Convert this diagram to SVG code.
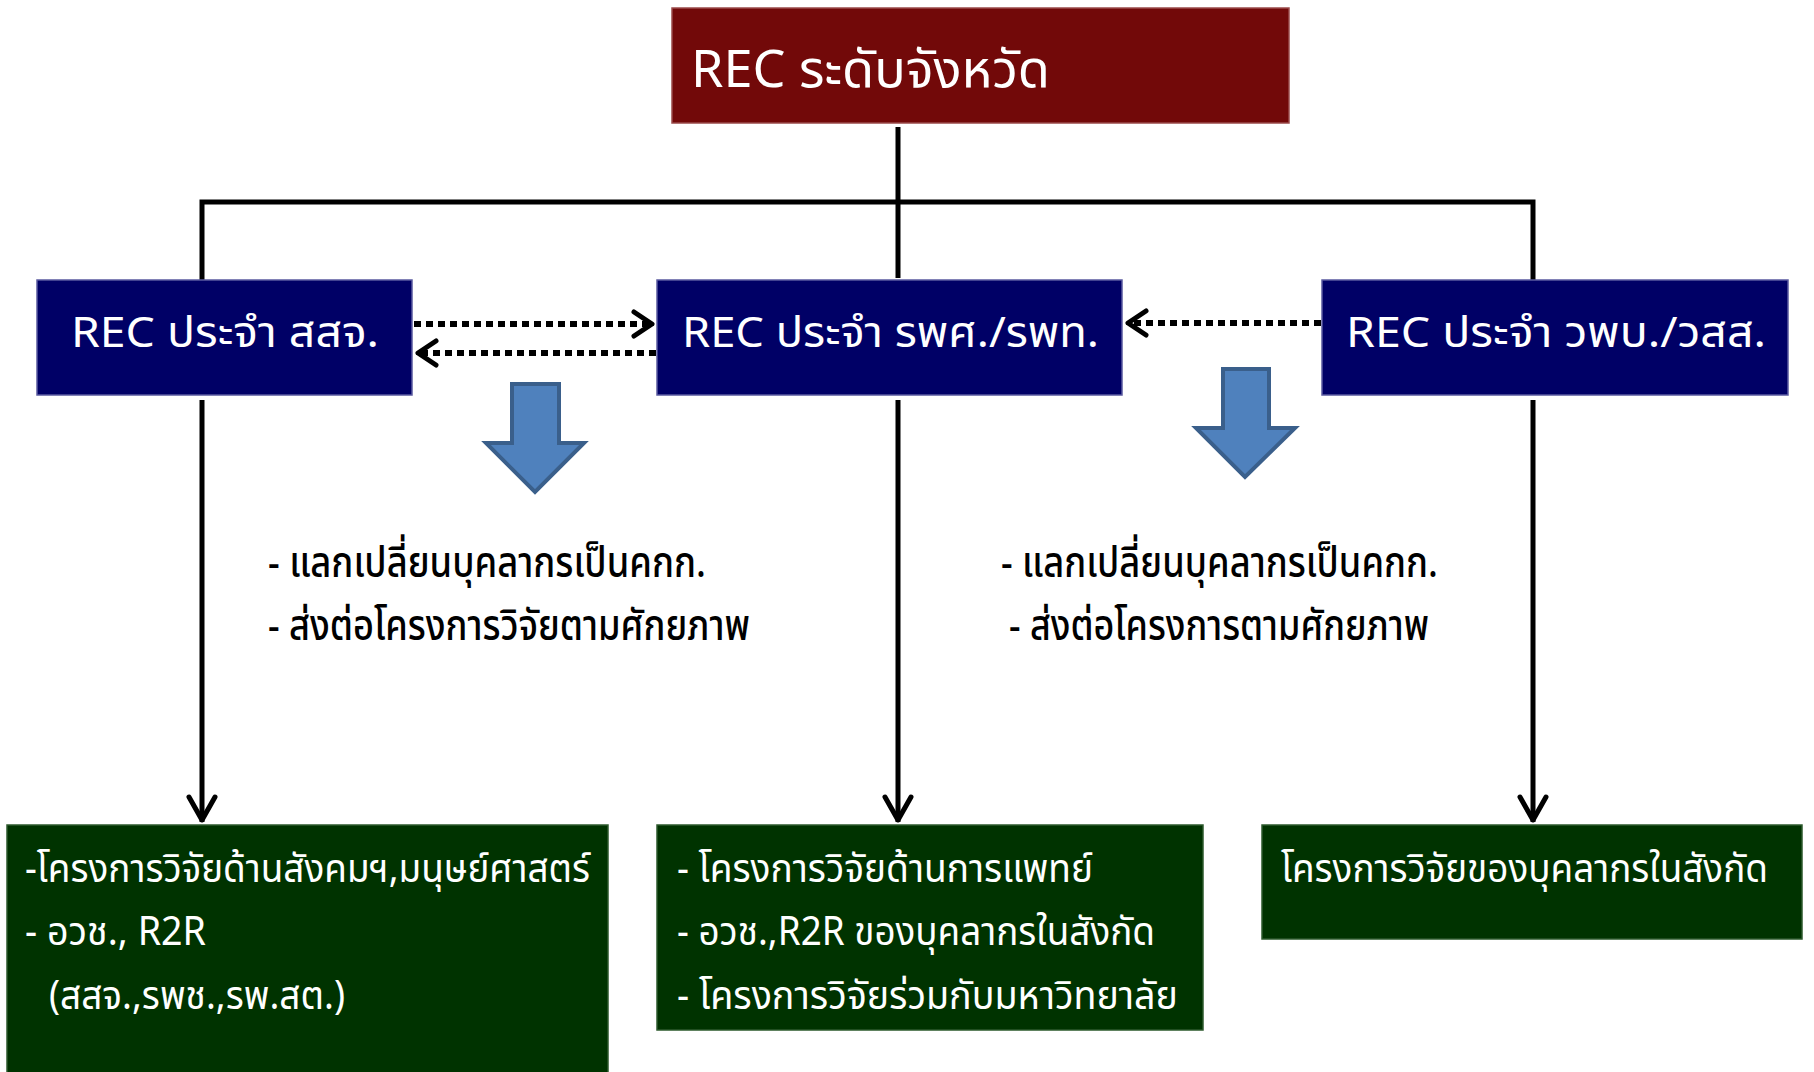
<svg xmlns="http://www.w3.org/2000/svg" width="1814" height="1072" viewBox="0 0 1814 1072">
<style>
text{font-family:"Noto Sans Thai","Noto Sans Thai UI","Noto Sans","DejaVu Sans",sans-serif;}
.w{fill:#ffffff;}
.t1{font-size:51px;}
.t2{font-size:42px;}
.t3{font-size:40px;}
.mid{font-size:42px;fill:#000000;font-weight:500;}
.red{fill:#720909;stroke:#9a4a4a;stroke-width:1.5;}
.navy{fill:#000066;stroke:#5a5aa0;stroke-width:1.5;}
.green{fill:#003300;stroke:#2d5a2d;stroke-width:1.5;}
.ln{fill:none;stroke:#000;stroke-width:5;}
.dot{fill:none;stroke:#000;stroke-width:6;stroke-dasharray:7 5;}
.head{fill:none;stroke:#000;stroke-width:5;stroke-linecap:round;stroke-linejoin:round;}
.blk{fill:#4f81bd;stroke:#3a5f8b;stroke-width:4;}
</style>
<rect width="1814" height="1072" fill="#ffffff"/>
<g id="connectors">
<path class="ln" d="M898 127 V278"/>
<path class="ln" d="M202 280 V202 H1533 V280"/>
<path class="ln" d="M202 400 V822"/>
<path class="head" d="M189 797 L202 820 L215 797"/>
<path class="ln" d="M898 400 V822"/>
<path class="head" d="M885 797 L898 820 L911 797"/>
<path class="ln" d="M1533 400 V822"/>
<path class="head" d="M1520 797 L1533 820 L1546 797"/>
<path class="dot" d="M414 324 H648"/>
<path class="head" d="M634 312 L652 324 L634 336"/>
<path class="dot" d="M656 353 H422"/>
<path class="head" d="M436 341 L418 353 L436 365"/>
<path class="dot" d="M1321 323 H1134"/>
<path class="head" d="M1146 311 L1128 323 L1146 335"/>
</g>
<g id="block-arrow-1"><path class="blk" d="M512 384 H559 V443 H584 L535 492 L486 443 H512 Z"/></g>
<g id="block-arrow-2"><path class="blk" d="M1223 369 H1269 V428 H1295 L1245 477 L1196 428 H1223 Z"/></g>
<g id="node-top">
<rect class="red" x="672" y="8" width="617" height="115"/>
<text class="w t1" x="691" y="87" textLength="359" lengthAdjust="spacingAndGlyphs">REC ระดับจังหวัด</text>
</g>
<g id="node-ssj">
<rect class="navy" x="37" y="280" width="375" height="115"/>
<text class="w t2" x="71" y="347" textLength="308" lengthAdjust="spacingAndGlyphs">REC ประจำ สสจ.</text>
</g>
<g id="node-hosp">
<rect class="navy" x="657" y="280" width="465" height="115"/>
<text class="w t2" x="682" y="347" textLength="417" lengthAdjust="spacingAndGlyphs">REC ประจำ รพศ./รพท.</text>
</g>
<g id="node-col">
<rect class="navy" x="1322" y="280" width="466" height="115"/>
<text class="w t2" x="1346" y="347" textLength="420" lengthAdjust="spacingAndGlyphs">REC ประจำ วพบ./วสส.</text>
</g>
<g id="note-1">
<text class="mid" x="268" y="577" textLength="438" lengthAdjust="spacingAndGlyphs">- แลกเปลี่ยนบุคลากรเป็นคกก.</text>
<text class="mid" x="268" y="640" textLength="482" lengthAdjust="spacingAndGlyphs">- ส่งต่อโครงการวิจัยตามศักยภาพ</text>
</g>
<g id="note-2">
<text class="mid" x="1001" y="577" textLength="437" lengthAdjust="spacingAndGlyphs">- แลกเปลี่ยนบุคลากรเป็นคกก.</text>
<text class="mid" x="1009" y="640" textLength="420" lengthAdjust="spacingAndGlyphs">- ส่งต่อโครงการตามศักยภาพ</text>
</g>
<g id="node-res-1">
<rect class="green" x="7" y="825" width="601" height="260"/>
<text class="w t3" x="25" y="882" textLength="565" lengthAdjust="spacingAndGlyphs">-โครงการวิจัยด้านสังคมฯ,มนุษย์ศาสตร์</text>
<text class="w t3" x="25" y="945" textLength="181" lengthAdjust="spacingAndGlyphs">- อวช., R2R</text>
<text class="w t3" x="49" y="1009" textLength="296" lengthAdjust="spacingAndGlyphs">(สสจ.,รพช.,รพ.สต.)</text>
</g>
<g id="node-res-2">
<rect class="green" x="657" y="825" width="546" height="205"/>
<text class="w t3" x="677" y="882" textLength="416" lengthAdjust="spacingAndGlyphs">- โครงการวิจัยด้านการแพทย์</text>
<text class="w t3" x="677" y="945" textLength="478" lengthAdjust="spacingAndGlyphs">- อวช.,R2R ของบุคลากรในสังกัด</text>
<text class="w t3" x="677" y="1009" textLength="501" lengthAdjust="spacingAndGlyphs">- โครงการวิจัยร่วมกับมหาวิทยาลัย</text>
</g>
<g id="node-res-3">
<rect class="green" x="1262" y="825" width="540" height="114"/>
<text class="w t3" x="1281" y="882" textLength="487" lengthAdjust="spacingAndGlyphs">โครงการวิจัยของบุคลากรในสังกัด</text>
</g>
</svg>
